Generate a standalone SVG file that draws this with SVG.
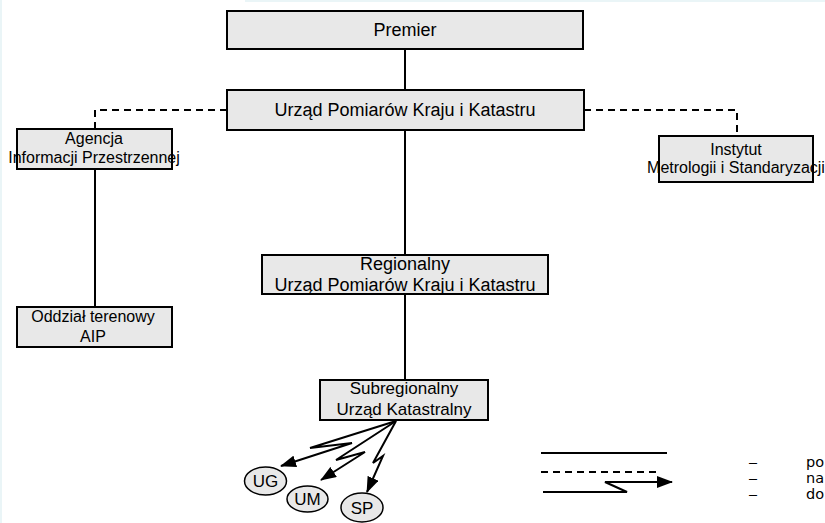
<svg xmlns="http://www.w3.org/2000/svg" width="825" height="523" viewBox="0 0 825 523">
<style>
.box{fill:#e8e8e8;stroke:#000;stroke-width:2}
.t{font-family:"Liberation Sans",Arial,sans-serif;fill:#000;text-anchor:middle}
.solid{stroke:#000;stroke-width:2;fill:none}
.dash{stroke:#000;stroke-width:2;fill:none;stroke-dasharray:7 5}
.bolt{stroke:#000;stroke-width:2;fill:none;marker-end:url(#ah)}
.oval{fill:#e8e8e8;stroke:#000;stroke-width:1.5}
.lg{font-family:"DejaVu Sans",Verdana,sans-serif;font-size:14.5px;fill:#000}
.ld{font-family:"DejaVu Sans",Verdana,sans-serif;font-size:13.5px;fill:#000}
</style>
<defs>
<marker id="ah" markerUnits="userSpaceOnUse" markerWidth="16" markerHeight="12" refX="15" refY="6" orient="auto">
<path d="M0,0 L16,6 L0,12 z" fill="#000"/>
</marker>
</defs>
<rect x="0" y="0" width="825" height="523" fill="#fff"/>
<rect x="0" y="0" width="2" height="523" fill="#eaf5f7"/>
<rect x="245" y="0" width="580" height="2" fill="#eaf5f7"/>
<g id="connectors">
<line class="solid" x1="405" y1="50" x2="405" y2="90"/>
<line class="solid" x1="405" y1="130" x2="405" y2="255"/>
<line class="solid" x1="405" y1="294" x2="405" y2="380"/>
<line class="solid" x1="95" y1="169" x2="95" y2="307"/>
<polyline class="dash" points="227,110 95,110 95,129"/>
<polyline class="dash" points="584,110 737,110 737,136"/>
<polyline class="bolt" points="396,421 310,448 352,443 281,466"/>
<polyline class="bolt" points="396,421 336,460 365,452 321,480"/>
<polyline class="bolt" points="396,421 373,463 383,456 367,492"/>
</g>
<g id="premier"><rect class="box" x="227" y="11" width="356" height="38"/><text class="t" x="405" y="36" font-size="18">Premier</text></g>
<g id="upkik"><rect class="box" x="227" y="90" width="357" height="40"/><text class="t" x="405" y="116" font-size="18">Urząd Pomiarów Kraju i Katastru</text></g>
<g id="aip"><rect class="box" x="17" y="129" width="155" height="40"/><text class="t" x="94" y="144" font-size="16">Agencja</text><text class="t" x="94" y="163" font-size="16">Informacji Przestrzennej</text></g>
<g id="oddzial"><rect class="box" x="17" y="307" width="155" height="40"/><text class="t" x="93" y="322" font-size="16">Oddział terenowy</text><text class="t" x="93" y="342" font-size="16">AIP</text></g>
<g id="instytut"><rect class="box" x="659" y="136" width="154" height="46"/><text class="t" x="736" y="155" font-size="16">Instytut</text><text class="t" x="736" y="173" font-size="16">Metrologii i Standaryzacji</text></g>
<g id="regionalny"><rect class="box" x="262" y="255" width="286" height="39"/><text class="t" x="405" y="270" font-size="18">Regionalny</text><text class="t" x="405" y="291" font-size="18">Urząd Pomiarów Kraju i Katastru</text></g>
<g id="subregionalny"><rect class="box" x="320" y="380" width="168" height="40"/><text class="t" x="404" y="394" font-size="17">Subregionalny</text><text class="t" x="404" y="415" font-size="17">Urząd Katastralny</text></g>
<g id="ug"><ellipse class="oval" cx="265.5" cy="481" rx="21" ry="14"/><text class="t" x="265.5" y="487" font-size="17">UG</text></g>
<g id="um"><ellipse class="oval" cx="307.5" cy="499" rx="20.5" ry="13"/><text class="t" x="307.5" y="505" font-size="17">UM</text></g>
<g id="sp"><ellipse class="oval" cx="362" cy="507.5" rx="21" ry="14.5"/><text class="t" x="362" y="513.5" font-size="17">SP</text></g>
<g id="legend">
<line class="solid" x1="541" y1="453" x2="667" y2="453"/>
<line class="dash" x1="541" y1="472" x2="661" y2="472"/>
<polyline class="bolt" points="543,492 627,492 605,482 672,482"/>
<text class="ld" x="748" y="467" textLength="10" lengthAdjust="spacingAndGlyphs">–</text>
<text class="ld" x="748" y="483" textLength="10" lengthAdjust="spacingAndGlyphs">–</text>
<text class="ld" x="748" y="499" textLength="10" lengthAdjust="spacingAndGlyphs">–</text>
<text class="lg"><tspan x="806" y="467">po</tspan><tspan x="806" y="483">na</tspan><tspan x="806" y="499">do</tspan></text>
</g>
</svg>
